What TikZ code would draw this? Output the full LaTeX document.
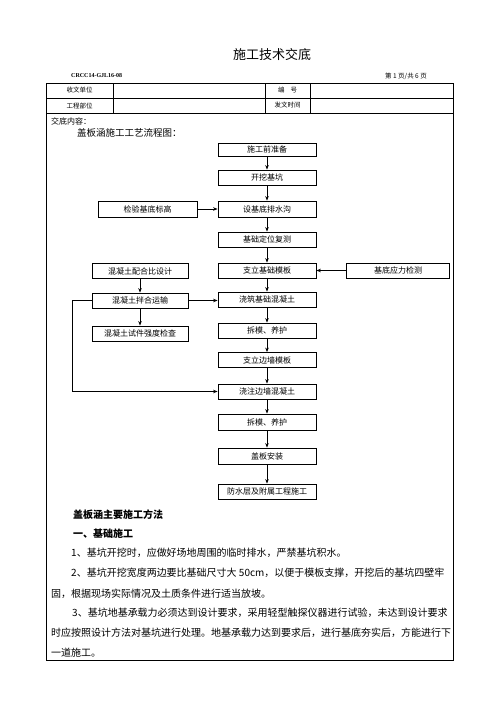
\documentclass[tikz,border=0pt]{standalone}
\usepackage{fontspec}
\setmainfont{Noto Sans CJK SC}
\newfontfamily\cjk{Noto Sans CJK SC}
\newfontfamily\lserif{Liberation Serif}
\usetikzlibrary{arrows.meta}
\tikzset{
  flowbox/.style={draw, line width=0.8pt, inner sep=0pt, minimum width=98pt, minimum height=15pt, font=\cjk\fontsize{8}{9}\selectfont},
  leftbox/.style={flowbox, minimum width=96pt},
  conn/.style={line width=0.8pt, -{Stealth[length=4.5pt,width=3.5pt]}},
  rule/.style={line width=0.9pt},
  cell/.style={font=\cjk\fontsize{6.5}{8}\selectfont, inner sep=0pt},
  body/.style={anchor=west, inner sep=0pt, font=\cjk\fontsize{10}{12}\selectfont},
}
\begin{document}
\begin{tikzpicture}[x=1pt,y=-1pt]
\useasboundingbox (0,0) rectangle (496,702);
\fill[white] (0,0) rectangle (496,702);
% title and header
\node[font=\cjk\fontsize{13}{15}\selectfont, inner sep=0pt] (title) at (272,55) {施工技术交底};
\node[font=\lserif\bfseries\fontsize{6}{7}\selectfont, anchor=west, inner sep=0pt] (code) at (71,76) {CRCC14-GJL16-08};
\node[font=\cjk\fontsize{6.5}{8}\selectfont, anchor=east, inner sep=0pt] (page) at (427,76) {第 1 页/共 6 页};
% table
\draw[rule] (46,83) rectangle (453,660);
\draw[rule] (46,98) -- (453,98);
\draw[rule] (46,113) -- (453,113);
\draw[rule] (113,83) -- (113,113);
\draw[rule] (265,83) -- (265,113);
\draw[rule] (310,83) -- (310,113);
\node[cell] (c1) at (79.5,90.5) {收文单位};
\node[cell] (c2) at (79.5,105.5) {工程部位};
\node[cell] (c3) at (287.5,90.5) {编\hspace{6pt}号};
\node[cell] (c4) at (287.5,105.5) {发文时间};
\node[font=\cjk\fontsize{8}{10}\selectfont, anchor=west, inner sep=0pt] (jd) at (51,121) {交底内容：};
\node[font=\cjk\fontsize{9.5}{11}\selectfont, anchor=west, inner sep=0pt] (lc) at (77,133) {盖板涵施工工艺流程图：};
% flow chart
\node[flowbox, minimum height=13pt] (b1) at (267,149.5) {施工前准备};
\node[flowbox] (b2) at (267,177.5) {开挖基坑};
\node[flowbox, minimum height=16pt] (b3) at (267,209) {设基底排水沟};
\node[flowbox] (b4) at (267,239.5) {基础定位复测};
\node[flowbox] (b5) at (267,270.5) {支立基础模板};
\node[flowbox] (b6) at (267,299.5) {浇筑基础混凝土};
\node[flowbox] (b7) at (267,330.5) {拆模、养护};
\node[flowbox] (b8) at (267,360) {支立边墙模板};
\node[flowbox] (b9) at (267,391.5) {浇注边墙混凝土};
\node[flowbox, minimum height=16pt] (b10) at (267,422) {拆模、养护};
\node[flowbox, minimum height=16pt] (b11) at (267,456) {盖板安装};
\node[flowbox] (b12) at (267,491.5) {防水层及附属工程施工};
\node[flowbox, minimum width=99pt, minimum height=16pt] (l1) at (147.5,209) {检验基底标高};
\node[leftbox] (l2) at (140,271) {混凝土配合比设计};
\node[leftbox] (l3) at (140,300.5) {混凝土拌合运输};
\node[leftbox] (l4) at (140,333.5) {混凝土试件强度检查};
\node[flowbox, minimum width=103pt] (r1) at (398,270.5) {基底应力检测};
\draw[conn] (b1) -- (b2);
\draw[conn] (b2) -- (b3);
\draw[conn] (b3) -- (b4);
\draw[conn] (b4) -- (b5);
\draw[conn] (b5) -- (b6);
\draw[conn] (b6) -- (b7);
\draw[conn] (b7) -- (b8);
\draw[conn] (b8) -- (b9);
\draw[conn] (b9) -- (b10);
\draw[conn] (b10) -- (b11);
\draw[conn] (b11) -- (b12);
\draw[conn] (l1) -- (b3);
\draw[conn] (r1) -- (b5);
\draw[conn] (l2) -- (l3);
\draw[conn] (l3) -- (l4);
\draw[conn] (l3) -- (b6.west |- l3);
\coordinate (lp) at (72,300.5);
\draw[conn] (l3.west) -- (lp) |- (b9.west);
% body text
\node[body, font=\cjk\bfseries\fontsize{10}{12}\selectfont] (h1) at (73,515) {盖板涵主要施工方法};
\node[body, font=\cjk\bfseries\fontsize{10}{12}\selectfont] (h2) at (73,534) {一、基础施工};
\node[body] (t1) at (71,553) {1、基坑开挖时，应做好场地周围的临时排水，严禁基坑积水。};
\node[body] (t2) at (71,572.5) {2、基坑开挖宽度两边要比基础尺寸大 50cm，以便于模板支撑，开挖后的基坑四壁牢};
\node[body] (t3) at (51,593.5) {固，根据现场实际情况及土质条件进行适当放坡。};
\node[body] (t4) at (72,613) {3、基坑地基承载力必须达到设计要求，采用轻型触探仪器进行试验，未达到设计要求};
\node[body] (t5) at (51,632.5) {时应按照设计方法对基坑进行处理。地基承载力达到要求后，进行基底夯实后，方能进行下};
\node[body] (t6) at (51,652.5) {一道施工。};
\end{tikzpicture}
\end{document}
